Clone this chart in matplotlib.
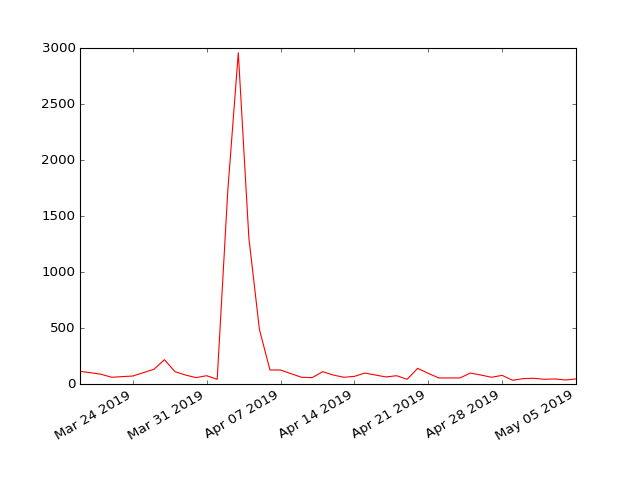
import matplotlib
matplotlib.use('Agg')
import matplotlib.pyplot as plt
import matplotlib.dates as mdates
import numpy as np
import pandas as pd

plt.style.use('classic')

start_date = '2019-03-19'
end_date = '2019-05-05'
counts = [113, 101, 87, 60, 66, 71, 101, 131, 217, 110, 80, 57, 74,
          42, 1720, 2958, 1306, 488, 125, 125, 92, 60, 57, 110, 80, 60,
          68, 98, 80, 63, 74, 42, 140, 95, 54, 54, 54, 98, 80, 60, 77,
          33, 48, 51, 42, 45, 36, 45]

dates = pd.date_range(start_date, end_date, freq='D')

fig, ax = plt.subplots(figsize=(8, 6), dpi=80)
ax.plot(dates.to_pydatetime(), counts, color='r', linewidth=1)

ax.xaxis.set_major_locator(mdates.WeekdayLocator(byweekday=mdates.SU))
ax.xaxis.set_major_formatter(mdates.DateFormatter('%b %d %Y'))
ax.set_xlim(dates[0].to_pydatetime(), dates[-1].to_pydatetime())
ax.set_ylim(0, 3000)
ax.set_yticks(np.arange(0, 3001, 500))
fig.autofmt_xdate()

fig.savefig('out.png', dpi=80)
